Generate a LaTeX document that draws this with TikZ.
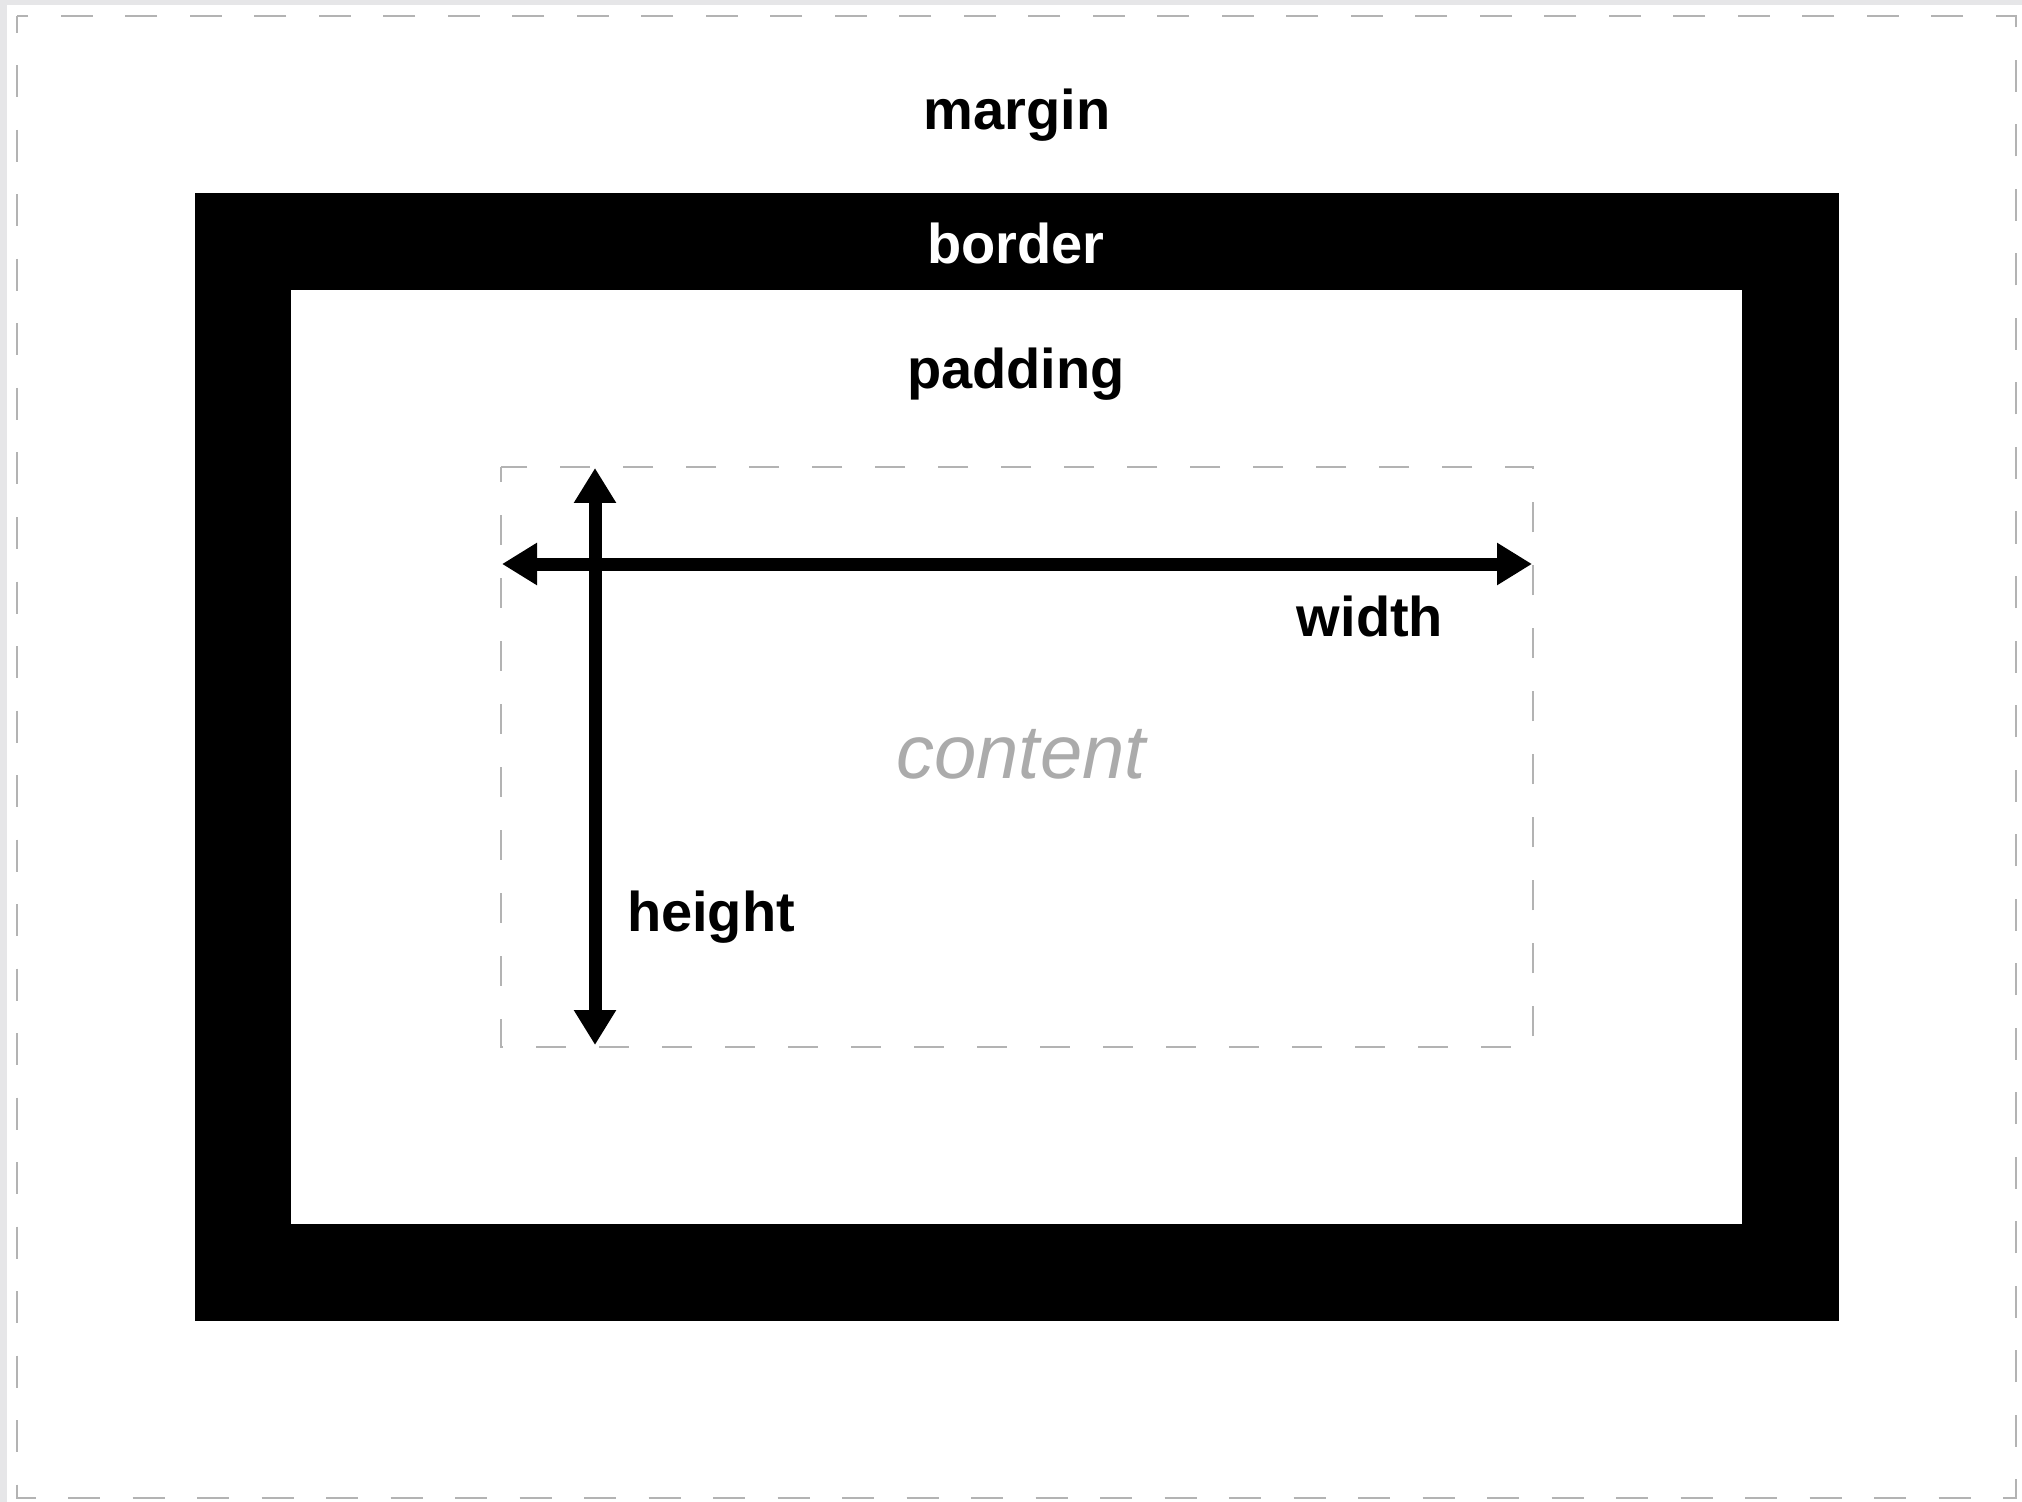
\documentclass[tikz,border=0pt]{standalone}
\usepackage{fontspec}
\setmainfont{Liberation Sans}
\usetikzlibrary{arrows.meta}
\definecolor{framegray}{HTML}{E6E6E8}
\definecolor{dashgray}{HTML}{B3B3B3}
\definecolor{contentgray}{HTML}{ABABAB}
\tikzset{
  dashbox/.style={draw=dashgray, line width=1.25pt, dash pattern=on 16pt off 16.25pt, dash phase=7.5pt},
  innerdash/.style={draw=dashgray, line width=1pt, dash pattern=on 15pt off 16.5pt, dash phase=7.5pt},
  lbl/.style={font=\bfseries\fontsize{28}{30}\selectfont, anchor=base, inner sep=0pt},
  dimarrow/.style={line width=6.5pt, {Triangle[length=17.5pt,width=20pt]}-{Triangle[length=17.5pt,width=20pt]}},
}
\begin{document}
\begin{tikzpicture}[x=0.5pt,y=-0.5pt]
\useasboundingbox (0,0) rectangle (2022,1502);
\fill[framegray] (0,0) rectangle (2022,1502);
\fill[white] (7,5) rectangle (2022,1502);
% margin box
\draw[dashbox] (17,16) rectangle (2016,1498);
% border
\fill[black] (195,193) rectangle (1839,1321);
\fill[white] (291,290) rectangle (1742,1224);
% content box
\draw[innerdash] (501,467) rectangle (1533,1047);
% labels
\node[lbl] (margin) at (1017,130) {margin};
\node[lbl, text=white] (border) at (1016,264) {border};
\node[lbl] (padding) at (1016,389) {padding};
\node[lbl] (width) at (1370,636) {width};
\node[lbl] (height) at (711,931) {height};
\node[font=\itshape\fontsize{38}{40}\selectfont, text=contentgray, anchor=base, inner sep=0pt] (content) at (1021,778) {content};
% arrows
\coordinate (wl) at (502,564);
\coordinate (wr) at (1532,564);
\coordinate (ht) at (595,468);
\coordinate (hb) at (595,1045);
\draw[dimarrow] (wl) -- (wr);
\draw[dimarrow] (ht) -- (hb);
\end{tikzpicture}
\end{document}
